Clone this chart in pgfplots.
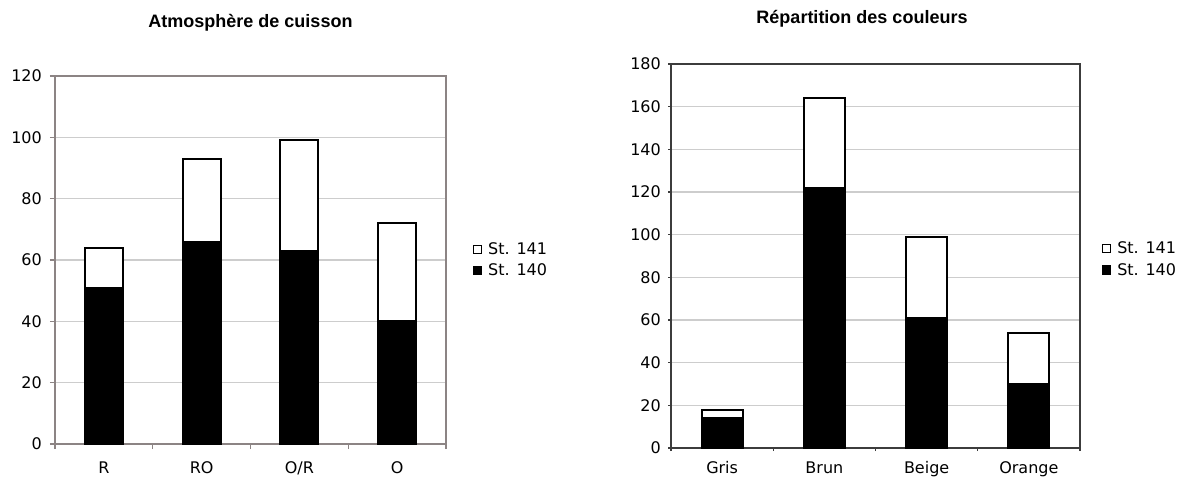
\documentclass[border=0pt]{standalone}
\usepackage{fontspec}
\setmainfont{DejaVu Sans}
\newfontfamily\titlefont{Liberation Sans}
\usepackage{pgfplots}
\pgfplotsset{compat=1.18}
\definecolor{gridc}{RGB}{205,205,205}
\definecolor{frameL}{RGB}{140,132,132}
\definecolor{frameR}{RGB}{60,60,60}
\pgfplotsset{
  common/.style={
    scale only axis,
    anchor=south west,
    ybar stacked,
    xmin=-0.5, xmax=3.5, ymin=0,
    /pgf/number format/assume math mode=true,
    tick label style={font=\fontsize{16}{18}\selectfont},
    xtick={-0.5,0.5,1.5,2.5,3.5},
    xticklabels={},
    extra x ticks={0,1,2,3},
    extra x tick style={major tick length=0pt},
    xtick pos=bottom, ytick pos=left,
    ymajorgrids,
    grid style={gridc, line width=1.5pt},
    tick align=outside,
    major tick length=5pt,
    yticklabel style={anchor=east, inner sep=0pt},
    legend style={draw=none, fill=none, inner xsep=0pt, inner ysep=0pt,
      font=\fontsize{16}{18}\selectfont, row sep=4pt},
    legend cell align=left,
    reverse legend,
    legend image code/.code={\draw[#1, line width=1.3pt] (1pt,-4pt) rectangle (9pt,4pt); \path (0pt,0pt) (13pt,0pt);},
    title style={anchor=base, font=\titlefont\bfseries\fontsize{18}{20}\selectfont},
  },
  b140/.style={draw=black, line width=2pt, fill=black},
  b141/.style={draw=black, line width=2pt, fill=white},
}
\begin{document}
\begin{tikzpicture}[x=1pt,y=1pt]
\useasboundingbox (0,0) rectangle (1182,479);
\begin{axis}[common,
  at={(55pt,35pt)}, width=391pt, height=368pt,
  ymax=120, ytick={0,20,...,120},
  bar width=38pt,
  extra x tick labels={R,RO,O/R,O},
  extra x tick style={xticklabel style={anchor=base, yshift=-29pt}},
  axis line style={frameL, line width=2pt},
  every tick/.style={frameL, line width=1.2pt},
  yticklabel style={xshift=-8pt},
  legend style={at={(1.064,0.5)}, anchor=west},
  title={Atmosphère de cuisson},
  title style={at={(0.5,1)}, yshift=42.5pt},
]
\addplot[b140] coordinates {(0,51) (1,66) (2,63) (3,40)};
\addplot[b141] coordinates {(0,13) (1,27) (2,36) (3,32)};
\legend{St. 140, St. 141}
\end{axis}
\begin{axis}[common,
  at={(671pt,31pt)}, width=409pt, height=384pt,
  ymax=180, ytick={0,20,...,180},
  bar width=41pt,
  extra x tick labels={Gris,Brun,Beige,Orange},
  extra x tick style={xticklabel style={anchor=base, yshift=-25pt}},
  axis line style={frameR, line width=2pt},
  every tick/.style={frameR, line width=1.2pt},
  major tick length=3pt,
  yticklabel style={xshift=-7pt},
  legend style={at={(1.049,0.491)}, anchor=west},
  title={Répartition des couleurs},
  title style={at={(0.467,1)}, yshift=34.5pt},
]
\addplot[b140] coordinates {(0,14) (1,122) (2,61) (3,30)};
\addplot[b141] coordinates {(0,4) (1,42) (2,38) (3,24)};
\legend{St. 140, St. 141}
\end{axis}
\end{tikzpicture}
\end{document}
